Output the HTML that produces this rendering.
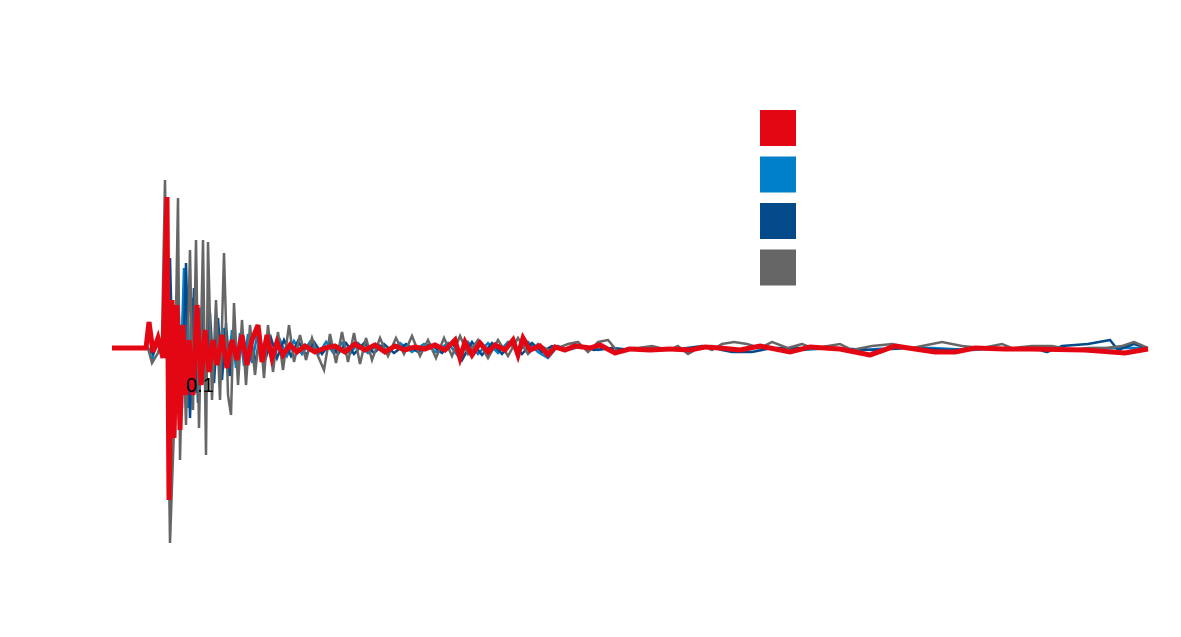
<!DOCTYPE html>
<html><head><meta charset="utf-8"><style>
html,body{margin:0;padding:0;background:#fff;}
svg{display:block;font-family:"Liberation Sans",sans-serif;}
</style></head><body>
<svg id="chart" width="1181" height="637"></svg>
<script>
// x: sample index (880 samples per second), y: amplitude units
const xTickValues = [88];
const xTickLabels = ["0.1"];
const seriesNames = ["red-series","blue-series","dark-blue-series","gray-series"];
const seriesColors = ["#e30613","#0080c8","#034a8a","#666666"];
const redSeries = [[0,0],[34,0],[37,26],[41,-4],[46,10],[51,-10],[55,151],[57,-152],[60,48],[62,-90],[65,43],[68,-82],[71,23],[74,-47],[77,8],[81,-47],[85,43],[89,-37],[93,18],[97,-24],[101,8],[105,-17],[110,13],[115,-20],[120,8],[125,-12],[130,13],[135,-17],[140,8],[146,23],[150,-14],[155,13],[160,-10],[165,6],[171,-7],[178,3],[185,-4],[193,2],[203,-4],[213,0],[223,2],[233,-4],[243,4],[253,-2],[263,3],[273,-4],[283,2],[293,-2],[303,1],[313,-1],[323,3],[333,-2],[343,8],[348,-10],[353,6],[360,-7],[368,5],[376,-4],[383,3],[393,-2],[401,8],[406,-7],[411,10],[418,-2],[428,2],[436,-7],[443,1],[453,-2],[463,2],[478,0],[488,3],[503,-5],[518,-1],[538,-2],[558,-1],[578,-2],[593,1],[608,0],[628,-2],[648,2],[678,-4],[698,1],[728,-1],[758,-7],[783,2],[823,-4],[843,-4],[863,0],[893,-1],[918,-1],[973,-2],[1013,-5],[1036,-1]];
const blueSeries = [[0,0],[36,0],[40,-12],[45,8],[52,-6],[56,70],[60,-60],[64,40],[68,-50],[72,80],[76,-60],[80,50],[84,-45],[88,40],[92,-35],[96,30],[100,-30],[104,25],[108,-28],[112,20],[116,-22],[120,18],[124,-20],[128,15],[132,-18],[136,14],[140,-15],[145,12],[150,-12],[156,10],[162,-10],[168,8],[175,-8],[182,7],[190,-6],[198,6],[206,-7],[214,6],[222,-6],[230,5],[238,-6],[246,5],[256,-5],[266,4],[276,-4],[288,5],[300,-4],[312,4],[324,-4],[336,5],[346,-8],[356,6],[366,-6],[376,5],[386,-5],[396,6],[406,-4],[416,6],[426,-4],[436,-10],[446,2],[456,-2],[470,2],[486,-2],[500,0],[520,-2],[540,0],[560,-2],[580,0],[600,2],[620,-2],[640,0],[660,0],[690,-2],[720,0],[750,-2],[780,0],[820,0],[860,-2],[900,0],[940,-2],[980,0],[1010,0],[1036,0]];
const darkBlueSeries = [[0,0],[36,0],[41,-6],[47,6],[54,-10],[58,90],[62,-70],[66,60],[70,-60],[74,85],[78,-70],[82,60],[86,-55],[90,50],[94,-40],[98,35],[102,-35],[106,30],[110,-32],[114,25],[118,-28],[122,20],[126,-24],[130,18],[134,-20],[138,15],[143,-16],[148,12],[153,-13],[159,10],[165,-10],[172,8],[179,-8],[186,7],[194,-7],[202,6],[210,-6],[218,5],[226,-6],[234,5],[242,-6],[252,5],[262,-5],[272,4],[282,-5],[294,4],[306,-4],[318,4],[330,-5],[340,6],[350,-12],[360,6],[370,-7],[380,5],[390,-6],[400,6],[410,-6],[420,5],[430,-4],[440,2],[452,-3],[466,2],[482,-2],[500,0],[520,-2],[540,0],[560,-2],[590,2],[620,-4],[640,-4],[660,0],[690,0],[720,0],[760,-2],[800,0],[840,-2],[880,0],[920,0],[935,-4],[950,2],[976,4],[998,8],[1006,-2],[1022,4],[1036,0]];
const graySeries = [[0,0],[36,0],[40,-15],[46,-5],[50,10],[53,168],[58,-195],[62,-80],[66,150],[68,-112],[71,18],[74,-77],[78,98],[81,-62],[84,108],[87,-80],[91,108],[94,-107],[96,106],[100,-52],[104,48],[108,-52],[112,95],[116,-47],[119,-67],[122,45],[126,-37],[130,28],[134,-37],[138,23],[143,-27],[148,18],[152,-30],[156,23],[161,-24],[166,16],[171,-22],[177,23],[182,-14],[188,13],[194,-12],[200,10],[206,-8],[212,-22],[218,14],[224,-15],[230,16],[236,-14],[242,15],[248,-16],[254,10],[260,-12],[268,10],[276,-8],[284,10],[292,-6],[300,12],[308,-8],[316,8],[324,-10],[332,10],[340,-8],[348,12],[356,-6],[366,8],[376,-10],[386,8],[396,-8],[406,10],[416,-6],[426,4],[436,-2],[446,0],[456,4],[466,6],[476,-4],[486,6],[496,8],[506,-4],[516,0],[526,0],[540,2],[556,-2],[566,2],[576,-6],[590,2],[600,-2],[610,4],[622,6],[635,4],[648,0],[660,6],[676,0],[690,4],[700,0],[716,2],[728,4],[740,-2],[760,2],[780,4],[800,0],[830,6],[850,2],[870,0],[890,4],[900,0],[920,2],[940,2],[960,-2],[976,0],[994,0],[1010,2],[1022,6],[1036,0]];

const NS="http://www.w3.org/2000/svg";
const svg=document.getElementById('chart');
const xScale=v=>112+v*1.0;
const yScale=v=>348-v*1.0;
function mk(tag,attrs){const e=document.createElementNS(NS,tag);for(const k in attrs)e.setAttribute(k,attrs[k]);return e;}

const drawOrder=[[1,blueSeries,2.5],[2,darkBlueSeries,2.5],[3,graySeries,2.5],[0,redSeries,5]];
drawOrder.forEach(([ci,data,w])=>{
  const p=mk('polyline',{points:data.map(d=>xScale(d[0])+','+yScale(d[1])).join(' '),fill:'none',stroke:seriesColors[ci],'stroke-width':w,'stroke-linejoin':'miter'});
  
  
  svg.appendChild(p);
});

xTickValues.forEach((v,i)=>{
  const t=mk('text',{x:xScale(v),y:392,'text-anchor':'middle','font-size':20,fill:'#000'});
  t.textContent=xTickLabels[i];
  
  
  svg.appendChild(t);
});

seriesColors.forEach((c,i)=>{
  const r=mk('rect',{x:760,y:110+i*46.5,width:36,height:36,fill:c});
  
  
  svg.appendChild(r);
});
</script>
</body></html>
